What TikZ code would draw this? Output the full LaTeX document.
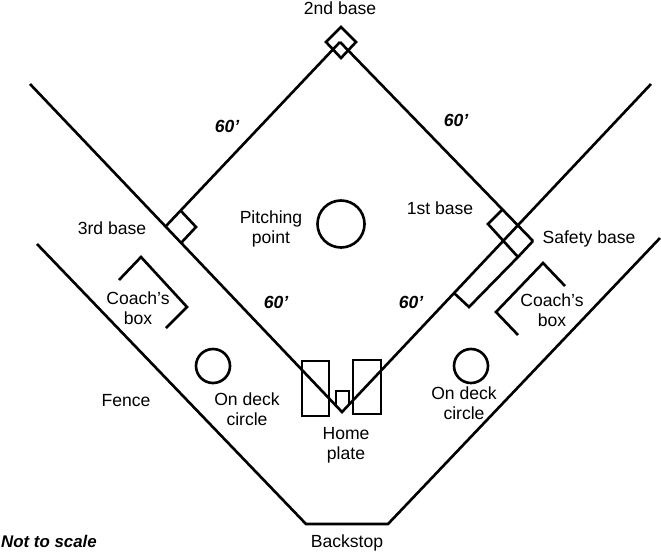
\documentclass[tikz,border=0pt]{standalone}
\usepackage{fontspec}
\setmainfont{Liberation Sans}
\tikzset{
    fieldline/.style={line width=1.5pt, line join=miter},
    circlebox/.style={draw, circle, line width=1.5pt, inner sep=0pt},
    fieldlabel/.style={align=center, font=\fontsize{10}{11.4}\selectfont, inner sep=0pt},
    distlabel/.style={font=\fontsize{10}{12}\selectfont\bfseries\itshape, inner sep=0pt}
}

\begin{document}
\begin{tikzpicture}[x=0.02cm, y=-0.02cm]
    \useasboundingbox (0,0) rectangle (661,551);
    \coordinate (homeapex) at (342,412);
    \coordinate (secondapex) at (340,42);
    \coordinate (leftfoul) at (30,84);
    \coordinate (rightfoul) at (651,84);

    % foul lines and base paths
    \draw[fieldline] (leftfoul) -- (homeapex) -- (rightfoul);
    \draw[fieldline] (secondapex) -- (166,226);
    \draw[fieldline] (secondapex) -- (533,241);

    % bases
    \draw[fieldline] (341,27) -- (356,42) -- (341,58) -- (326,42) -- cycle;
    \draw[fieldline] (181,211) -- (196,227) -- (181,243);
    \draw[fieldline] (502,210) -- (488,224) -- (518,257);
    \draw[fieldline] (533,241) -- (518,257) -- (469,307) -- (454,293);

    % batter's boxes and plate
    \draw[fieldline] (302,361) rectangle (329,416);
    \draw[fieldline] (353,360) rectangle (381,414);
    \draw[fieldline] (336,405) -- (336,391) -- (349,391) -- (349,405);

    % coach's boxes
    \draw[fieldline] (119,280) -- (141,257) -- (187,307) -- (166,328);
    \draw[fieldline] (565,286) -- (543,263) -- (496,312) -- (518,335);

    % fence
    \draw[fieldline] (37,244) -- (306,524) -- (388,524) -- (660,238);

    % circles
    \node[circlebox, minimum size=0.94cm] (pitchcircle) at (341,224) {};
    \node[circlebox, minimum size=0.68cm] (deckleft) at (213,366) {};
    \node[circlebox, minimum size=0.68cm] (deckright) at (471,366) {};

    % labels
    \node[fieldlabel] (secondlabel) at (340,8) {2nd base};
    \node[fieldlabel] (firstlabel) at (440,208) {1st base};
    \node[fieldlabel] (thirdlabel) at (112,228) {3rd base};
    \node[fieldlabel] (safetylabel) at (589,239) {Safety base};
    \node[fieldlabel] (pitchlabel) at (271,229) {Pitching\\point};
    \node[fieldlabel] (coachleft) at (138,308) {Coach’s\\box};
    \node[fieldlabel] (coachright) at (552,310) {Coach’s\\box};
    \node[fieldlabel] (decklabelleft) at (247,409) {On deck\\circle};
    \node[fieldlabel] (decklabelright) at (464,403) {On deck\\circle};
    \node[fieldlabel] (homelabel) at (346,445) {Home\\plate};
    \node[fieldlabel] (fencelabel) at (126,401) {Fence};
    \node[fieldlabel] (backstoplabel) at (347,543) {Backstop};
    \node[distlabel, font=\fontsize{9.6}{12}\selectfont\bfseries\itshape] (scalelabel) at (49,541) {Not to scale};
    \node[distlabel] (distnw) at (227,126) {60’};
    \node[distlabel] (distne) at (456,120) {60’};
    \node[distlabel] (distsw) at (276,302) {60’};
    \node[distlabel] (distse) at (411,302) {60’};
\end{tikzpicture}
\end{document}
